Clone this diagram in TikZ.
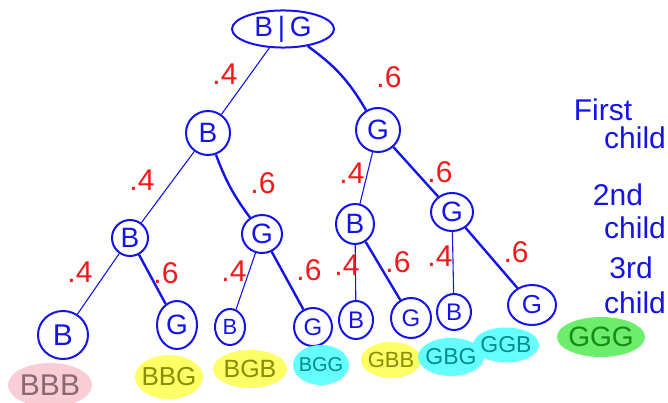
\documentclass[tikz,border=0pt]{standalone}
\usepackage{fontspec}
\setmainfont{Liberation Sans}
\usetikzlibrary{shapes.geometric}
\definecolor{pen}{HTML}{1414E6}
\definecolor{redpen}{HTML}{F21A1A}
\definecolor{pinkfill}{HTML}{F9CDD5}
\definecolor{yelfill}{HTML}{FFFF66}
\definecolor{cyanfill}{HTML}{66FFFF}
\definecolor{grnfill}{HTML}{6CEE6C}
\definecolor{pinktext}{HTML}{8A6870}
\definecolor{yeltext}{HTML}{8C8C00}
\definecolor{cyantext}{HTML}{008C8C}
\definecolor{grntext}{HTML}{178A17}
\newcommand{\fsz}[1]{\fontsize{#1}{#1}\selectfont}
\tikzset{
  tnode/.style={draw=pen, line width=2pt, ellipse, inner sep=0pt, text=pen, font=\fsz{28}},
  thinedge/.style={draw=pen, line width=1.1pt},
  thickedge/.style={draw=pen, line width=2.4pt},
  prob/.style={text=redpen, font=\fsz{30}, inner sep=0pt},
  blob/.style={ellipse, inner xsep=-12pt, inner ysep=-6pt},
  side/.style={text=pen, font=\fsz{30}, inner sep=0pt},
}
\begin{document}
\begin{tikzpicture}[x=1pt,y=-1pt]
\useasboundingbox (0,0) rectangle (668,403);
% tree nodes
\node[tnode, minimum width=102, minimum height=36] (root) at (283,29) {B\,|\,G};
\node[tnode, minimum width=44, minimum height=44] (b1) at (208,133) {B};
\node[tnode, minimum width=44, minimum height=44] (g1) at (378,130) {G};
\node[tnode, minimum width=36, minimum height=36] (b2) at (130,238) {B};
\node[tnode, minimum width=40, minimum height=38] (g2) at (262,234) {G};
\node[tnode, minimum width=38, minimum height=40] (b3) at (355,224) {B};
\node[tnode, minimum width=42, minimum height=38] (g3) at (452,212) {G};
\node[tnode, minimum width=50, minimum height=48, font=\fsz{30}] (l1) at (63,335) {B};
\node[tnode, minimum width=40, minimum height=48] (l2) at (177,325) {G};
\node[tnode, minimum width=30, minimum height=36, font=\fsz{22}] (l3) at (230,327) {B};
\node[tnode, minimum width=38, minimum height=38, font=\fsz{24}] (l4) at (313,327) {G};
\node[tnode, minimum width=34, minimum height=38, font=\fsz{24}] (l5) at (356,320) {B};
\node[tnode, minimum width=40, minimum height=40, font=\fsz{24}] (l6) at (411,318) {G};
\node[tnode, minimum width=34, minimum height=36, font=\fsz{24}] (l7) at (454,312) {B};
\node[tnode, minimum width=48, minimum height=40, font=\fsz{26}] (l8) at (532,305) {G};
% edges
\draw[thinedge] (root) -- (b1);
\draw[thickedge] (root) to[bend left=12] (g1);
\draw[thinedge] (b1) -- (b2);
\draw[thickedge] (b1) to[bend right=8] (g2);
\draw[thinedge] (g1) -- (b3);
\draw[thickedge] (g1) -- (g3);
\draw[thinedge] (b2) -- (l1);
\draw[thickedge] (b2) -- (l2);
\draw[thinedge] (g2) -- (l3);
\draw[thickedge] (g2) -- (l4);
\draw[thinedge] (b3) -- (l5);
\draw[thickedge] (b3) -- (l6);
\draw[thinedge] (g3) -- (l7);
\draw[thickedge] (g3) -- (l8);
% probabilities
\node[prob] (p1) at (225,74) {.4};
\node[prob] (p2) at (389,77) {.6};
\node[prob] (p3) at (142,180) {.4};
\node[prob] (p4) at (263,183) {.6};
\node[prob] (p5) at (352,173) {.4};
\node[prob] (p6) at (440,172) {.6};
\node[prob] (p7) at (80,272) {.4};
\node[prob] (p8) at (166,273) {.6};
\node[prob] (p9) at (234,271) {.4};
\node[prob] (p10) at (309,270) {.6};
\node[prob] (p11) at (347,265) {.4};
\node[prob] (p12) at (398,262) {.6};
\node[prob] (p13) at (440,256) {.4};
\node[prob] (p14) at (516,252) {.6};
% side labels
\node[side] (s1a) at (603,110) {First};
\node[side] (s1b) at (635,138) {child};
\node[side] (s2a) at (618,195) {2nd};
\node[side] (s2b) at (635,228) {child};
\node[side] (s3a) at (631,268) {3rd};
\node[side] (s3b) at (635,303) {child};
% outcome blobs
\node[blob, fill=pinkfill, text=pinktext, font=\fsz{30}, minimum width=84, minimum height=44] (o1) at (50,385) {BBB};
\node[blob, fill=yelfill, text=yeltext, font=\fsz{26}, minimum width=68, minimum height=44] (o2) at (169,377) {BBG};
\node[blob, fill=yelfill, text=yeltext, font=\fsz{25}, minimum width=74, minimum height=38] (o3) at (250,369) {BGB};
\node[blob, fill=cyanfill, text=cyantext, font=\fsz{20}, minimum width=56, minimum height=40] (o4) at (321,365) {BGG};
\node[blob, fill=yelfill, text=yeltext, font=\fsz{22}, minimum width=60, minimum height=36] (o5) at (391,360) {GBB};
\node[blob, fill=cyanfill, text=cyantext, font=\fsz{23}, minimum width=66, minimum height=38] (o6) at (451,357) {GBG};
\node[blob, fill=cyanfill, text=cyantext, font=\fsz{23}, minimum width=66, minimum height=35] (o7) at (506,345) {GGB};
\node[blob, fill=grnfill, text=grntext, font=\fsz{28}, minimum width=88, minimum height=40] (o8) at (601,337) {GGG};
\end{tikzpicture}
\end{document}
